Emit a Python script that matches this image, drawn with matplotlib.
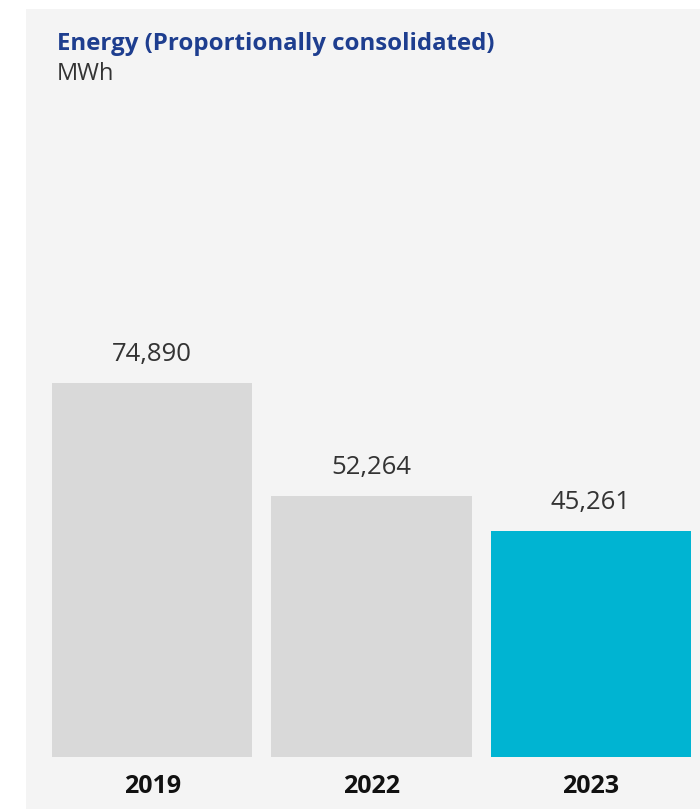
import matplotlib.pyplot as plt
from matplotlib.patches import Rectangle

# Data
years = ["2019", "2022", "2023"]
energy_mwh = [74890, 52264, 45261]
bar_colors = ["#d9d9d9", "#d9d9d9", "#00b4d2"]

W, H = 700, 810
fig = plt.figure(figsize=(W / 100, H / 100), dpi=100)
fig.patch.set_facecolor("white")
plt.rcParams['font.family'] = ['Open Sans', 'DejaVu Sans']

# light grey panel behind everything
fig.patches.append(Rectangle((26 / W, 1 / H), 1 - 26 / W, (H - 10) / H,
                             transform=fig.transFigure, facecolor="#f4f4f4",
                             edgecolor="none", zorder=-1))

# axes placed in pixel terms: x 52..691, y 100..757
ax = fig.add_axes([52 / W, (H - 757) / H, (691 - 52) / W, (757 - 100) / H])
ax.set_zorder(1)
ax.set_facecolor("none")
x = range(len(years))
ax.bar(x, energy_mwh, width=0.914, color=bar_colors, zorder=2)
ax.set_xlim(-0.457, 2.457)
ax.set_ylim(0, 131400)

for xi, v in zip(x, energy_mwh):
    ax.annotate(f"{v:,}", (xi, v), xytext=(0, 11), textcoords="offset points",
                ha="center", va="bottom", fontsize=18.5, color="#333333")

ax.set_xticks(list(x))
ax.set_xticklabels(years, fontsize=18, fontweight="bold", color="#111111")
ax.tick_params(axis="x", length=0, pad=12)
ax.set_yticks([])
for s in ax.spines.values():
    s.set_visible(False)

fig.text(57 / W, 1 - 44 / H, "Energy (Proportionally consolidated)", fontsize=17.3,
         fontweight="bold", color="#1e3e8f", va="center", ha="left", zorder=2)
fig.text(57 / W, 1 - 74 / H, "MWh", fontsize=17, color="#333333",
         va="center", ha="left", zorder=2)

fig.savefig("out.png", dpi=100)
